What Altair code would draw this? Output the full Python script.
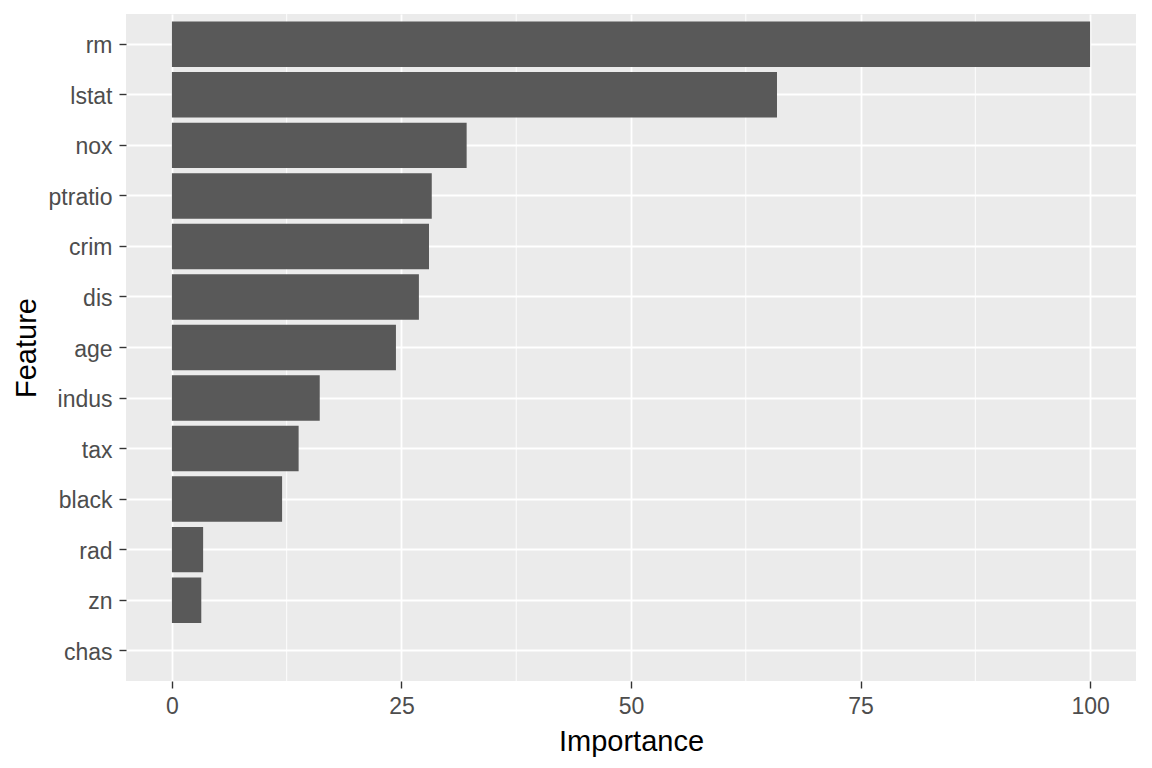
import altair as alt
import pandas as pd

features = ["rm", "lstat", "nox", "ptratio", "crim", "dis", "age", "indus", "tax", "black", "rad", "zn", "chas"]
importance = [100, 65.9, 32.1, 28.3, 28.0, 26.9, 24.4, 16.1, 13.8, 12.0, 3.4, 3.2, 0.0]
x_ticks = [0, 25, 50, 75, 100]
minor_ticks = [12.5, 37.5, 62.5, 87.5]

df = pd.DataFrame({"Feature": features, "Importance": importance})
minor_df = pd.DataFrame({"m": minor_ticks})

xscale = alt.Scale(domain=[-5, 105], nice=False, zero=False)
yscale = alt.Scale(paddingInner=0.1, paddingOuter=0.15)

minor = alt.Chart(minor_df).mark_rule(color="white", strokeWidth=0.9).encode(
    x=alt.X("m:Q", scale=xscale)
)

bars = alt.Chart(df).mark_bar(color="#595959").encode(
    x=alt.X("Importance:Q", scale=xscale,
            axis=alt.Axis(values=x_ticks, title="Importance")),
    y=alt.Y("Feature:N", sort=features, scale=yscale,
            axis=alt.Axis(title="Feature")),
)

chart = alt.layer(minor, bars).properties(
    width=1010, height=667,
    autosize=alt.AutoSizeParams(type="none"),
    padding={"left": 118, "top": 6, "right": 8, "bottom": 80},
).configure_view(
    fill="#EBEBEB", stroke=None
).configure_axis(
    grid=True, gridColor="white", gridWidth=1.8,
    domain=False,
    tickColor="#333333", tickSize=7, tickWidth=1.4,
    labelColor="#4D4D4D", labelFontSize=23, labelFont="Liberation Sans",
    titleFont="Liberation Sans", titleFontSize=29, titleFontWeight="normal",
    titleColor="black",
).configure_axisY(
    titlePadding=7, labelPadding=7, labelOffset=2,
).configure_axisX(
    titlePadding=9, labelPadding=7,
)

chart.save("out.html", embed_options={"renderer": "svg", "actions": False})
